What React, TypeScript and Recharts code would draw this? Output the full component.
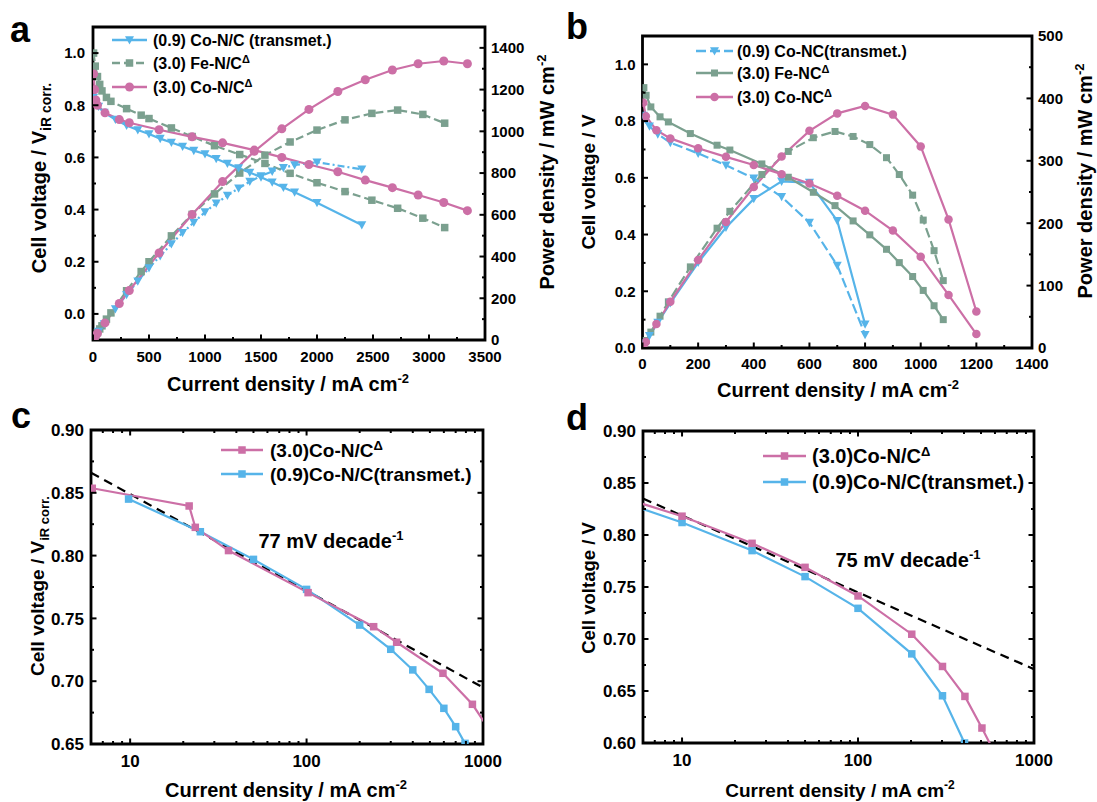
import React from "react";
import { ComposedChart, Line, XAxis, YAxis, ReferenceArea } from "recharts";

const FONT = '"Liberation Sans", Arial, Helvetica, sans-serif';
const PINK = "#CC6FA6";
const BLUE = "#56B4E9";
const GREEN = "#7BA08F";

// ---------- panel a : polarisation + power, V iR corr. ----------
const aBlueI = [5, 20, 50, 100, 200, 300, 400, 500, 600, 700, 800, 900, 1000, 1100, 1200, 1300, 1400, 1500, 1600, 1700, 1800, 2000, 2400];
const aBlueV = [0.83, 0.81, 0.795, 0.772, 0.745, 0.722, 0.705, 0.69, 0.672, 0.657, 0.642, 0.626, 0.613, 0.595, 0.577, 0.559, 0.542, 0.524, 0.505, 0.485, 0.466, 0.426, 0.341];
const aBlueP = [4, 16, 40, 77, 149, 217, 282, 345, 403, 460, 514, 563, 613, 655, 692, 727, 759, 786, 808, 825, 839, 852, 818];

const aGreenI = [5, 20, 40, 60, 80, 120, 160, 300, 430, 500, 700, 885, 1085, 1310, 1535, 1760, 2000, 2250, 2490, 2720, 2945, 3140];
const aGreenV = [1.0, 0.95, 0.91, 0.88, 0.855, 0.83, 0.815, 0.787, 0.762, 0.749, 0.713, 0.68, 0.645, 0.611, 0.577, 0.539, 0.503, 0.469, 0.436, 0.405, 0.367, 0.331];
const aGreenP = [5, 19, 36, 53, 68, 100, 130, 236, 328, 375, 499, 602, 700, 800, 886, 949, 1006, 1055, 1086, 1102, 1081, 1039];

const aPinkI = [5, 15, 25, 40, 107, 235, 324, 590, 885, 1157, 1440, 1686, 1928, 2186, 2431, 2673, 2903, 3132, 3343];
const aPinkV = [0.92, 0.86, 0.82, 0.8, 0.771, 0.745, 0.733, 0.706, 0.679, 0.656, 0.628, 0.6, 0.573, 0.545, 0.513, 0.484, 0.456, 0.427, 0.396];
const aPinkP = [5, 13, 21, 32, 82, 175, 237, 417, 601, 759, 904, 1012, 1105, 1191, 1247, 1294, 1324, 1337, 1324];

const aXTicks = [0, 250, 500, 750, 1000, 1250, 1500, 1750, 2000, 2250, 2500, 2750, 3000, 3250, 3500];
const aXMajor = [0, 500, 1000, 1500, 2000, 2500, 3000, 3500];
const aLTicks = [0, 0.1, 0.2, 0.3, 0.4, 0.5, 0.6, 0.7, 0.8, 0.9, 1.0];
const aLMajor = [0, 0.2, 0.4, 0.6, 0.8, 1.0];
const aRTicks = [0, 100, 200, 300, 400, 500, 600, 700, 800, 900, 1000, 1100, 1200, 1300, 1400];
const aRMajor = [0, 200, 400, 600, 800, 1000, 1200, 1400];

// ---------- panel b : polarisation + power, V ----------
const bBlueI = [3, 10, 25, 55, 100, 200, 300, 400, 500, 600, 700, 800];
const bBlueV = [0.82, 0.806, 0.782, 0.754, 0.724, 0.686, 0.644, 0.598, 0.533, 0.442, 0.291, 0.047];
const bBlueP = [2.5, 8, 19.5, 41, 72, 137, 193, 239, 267, 265, 204, 38];

const bGreenI = [5, 13, 30, 63, 93, 172, 268, 314, 429, 524, 614, 692, 757, 817, 877, 923, 971, 1009, 1048, 1081];
const bGreenV = [0.918, 0.891, 0.85, 0.815, 0.797, 0.756, 0.715, 0.698, 0.649, 0.602, 0.549, 0.502, 0.448, 0.399, 0.348, 0.301, 0.252, 0.203, 0.149, 0.1];
const bGreenP = [4.6, 12, 25.5, 51, 74, 130, 192, 219, 278, 315, 337, 347, 339, 326, 305, 278, 245, 205, 156, 108];

const bPinkI = [3, 12, 50, 100, 200, 300, 400, 500, 600, 700, 800, 900, 1000, 1100, 1200];
const bPinkV = [0.865, 0.817, 0.768, 0.739, 0.704, 0.674, 0.645, 0.613, 0.58, 0.537, 0.484, 0.414, 0.322, 0.187, 0.049];
const bPinkP = [2.6, 9.8, 38.4, 74, 141, 202, 258, 307, 348, 376, 388, 374, 323, 206, 58.5];

const bXTicks = [0, 100, 200, 300, 400, 500, 600, 700, 800, 900, 1000, 1100, 1200, 1300, 1400];
const bXMajor = [0, 200, 400, 600, 800, 1000, 1200, 1400];
const bLTicks = [0, 0.1, 0.2, 0.3, 0.4, 0.5, 0.6, 0.7, 0.8, 0.9, 1.0];
const bLMajor = [0, 0.2, 0.4, 0.6, 0.8, 1.0];
const bRTicks = [0, 50, 100, 150, 200, 250, 300, 350, 400, 450, 500];
const bRMajor = [0, 100, 200, 300, 400, 500];

// ---------- panel c : Tafel, V iR corr. ----------
const cPinkI = [6.1, 21.6, 23.4, 36.1, 102, 240, 324, 593, 871, 1200];
const cPinkV = [0.8536, 0.8395, 0.8225, 0.804, 0.7705, 0.7434, 0.731, 0.7063, 0.6816, 0.652];
const cBlueI = [9.8, 25, 50, 100, 200, 300, 400, 495, 600, 700, 791, 830];
const cBlueV = [0.845, 0.819, 0.797, 0.7731, 0.7447, 0.7254, 0.709, 0.6935, 0.6784, 0.6638, 0.6505, 0.64];
const cFitI = [6, 1000];
const cFitV = [0.866, 0.695];

// ---------- panel d : Tafel, V ----------
const dPinkI = [5, 10, 25, 50, 100, 202, 302, 405, 506, 600];
const dPinkV = [0.834, 0.8181, 0.792, 0.7689, 0.7414, 0.7046, 0.6736, 0.6448, 0.6144, 0.59];
const dBlueI = [5, 10, 25, 50, 100, 202, 302, 403];
const dBlueV = [0.8295, 0.812, 0.785, 0.76, 0.7295, 0.6857, 0.6454, 0.6];
const dFitI = [6, 1000];
const dFitV = [0.835, 0.671];

const logTicks = [7, 8, 9, 10, 20, 30, 40, 50, 60, 70, 80, 90, 100, 200, 300, 400, 500, 600, 700, 800, 900, 1000];
const logMajor = [10, 100, 1000];
const cYTicks = [0.65, 0.675, 0.7, 0.725, 0.75, 0.775, 0.8, 0.825, 0.85, 0.875, 0.9];
const cYMajor = [0.65, 0.7, 0.75, 0.8, 0.85, 0.9];
const dYTicks = [0.6, 0.625, 0.65, 0.675, 0.7, 0.725, 0.75, 0.775, 0.8, 0.825, 0.85, 0.875, 0.9];
const dYMajor = [0.6, 0.65, 0.7, 0.75, 0.8, 0.85, 0.9];

function pts(xs: number[], ys: number[]) {
  return xs.map((x, i) => ({ x, y: ys[i] }));
}

type Kind = "tri" | "sq" | "circ";

function markerEl(kind: Kind, cx: number, cy: number, color: string, s: number, key?: string) {
  if (kind === "sq") return <rect key={key} x={cx - s / 2} y={cy - s / 2} width={s} height={s} fill={color} />;
  if (kind === "circ") return <circle key={key} cx={cx} cy={cy} r={s / 2} fill={color} />;
  return (
    <polygon
      key={key}
      points={`${cx - s / 2},${cy - s * 0.42} ${cx + s / 2},${cy - s * 0.42} ${cx},${cy + s * 0.5}`}
      fill={color}
    />
  );
}

function dot(kind: Kind, color: string, s: number) {
  return (p: any) => {
    if (p.cx == null || p.cy == null) return <g key={`e${p.index}`} />;
    return markerEl(kind, p.cx, p.cy, color, s, `d${p.index}`);
  };
}

function bottomTick(majors: number[], B: number, T: number | null, fs: number, off: number, fmt: (v: number) => string) {
  return (p: any) => {
    const v = p.payload.value as number;
    const major = majors.includes(v);
    const len = major ? 5.5 : 3;
    return (
      <g>
        <line x1={p.x} x2={p.x} y1={B} y2={B - len} stroke="#000" strokeWidth={2} />
        {T !== null && <line x1={p.x} x2={p.x} y1={T} y2={T + len} stroke="#000" strokeWidth={2} />}
        {major && (
          <text x={p.x} y={B + off} textAnchor="middle" fontSize={fs} fontWeight={700} fontFamily={FONT} fill="#000">
            {fmt(v)}
          </text>
        )}
      </g>
    );
  };
}

function sideTick(majors: number[], edge: number, mirror: number | null, side: "left" | "right", fs: number, gap: number, fmt: (v: number) => string) {
  return (p: any) => {
    const v = p.payload.value as number;
    const major = majors.includes(v);
    const len = major ? 5.5 : 3;
    const dir = side === "left" ? 1 : -1;
    return (
      <g>
        <line x1={edge} x2={edge + dir * len} y1={p.y} y2={p.y} stroke="#000" strokeWidth={2} />
        {mirror !== null && <line x1={mirror} x2={mirror - dir * len} y1={p.y} y2={p.y} stroke="#000" strokeWidth={2} />}
        {major && (
          <text
            x={side === "left" ? edge - gap : edge + gap}
            y={p.y + fs * 0.36}
            textAnchor={side === "left" ? "end" : "start"}
            fontSize={fs}
            fontWeight={700}
            fontFamily={FONT}
            fill="#000"
          >
            {fmt(v)}
          </text>
        )}
      </g>
    );
  };
}

const f1 = (v: number) => v.toFixed(1);
const f2 = (v: number) => v.toFixed(2);
const f0 = (v: number) => String(v);

function PanelA() {
  const L = 93, R = 485, T = 27, B = 340;
  return (
    <ComposedChart width={548} height={400} margin={{ top: T, right: 548 - R - 50, bottom: 400 - B - 30, left: L - 50 }}>
      <XAxis dataKey="x" type="number" domain={[0, 3500]} ticks={aXTicks} interval={0} allowDataOverflow height={30}
        tickLine={false} axisLine={false} tick={bottomTick(aXMajor, B, null, 15, 21.5, f0)} />
      <YAxis yAxisId="l" type="number" domain={[-0.1, 1.1]} ticks={aLTicks} interval={0} allowDataOverflow width={50}
        tickLine={false} axisLine={false} tick={sideTick(aLMajor, L, null, "left", 15, 8, f1)} />
      <YAxis yAxisId="r" orientation="right" type="number" domain={[0, 1500]} ticks={aRTicks} interval={0} allowDataOverflow width={50}
        tickLine={false} axisLine={false} tick={sideTick(aRMajor, R, null, "right", 15, 6, f0)} />
      <Line yAxisId="r" data={pts(aGreenI, aGreenP)} dataKey="y" stroke={GREEN} strokeWidth={2.2} strokeDasharray="8 4" dot={dot("sq", GREEN, 7.5)} activeDot={false} isAnimationActive={false} />
      <Line yAxisId="r" data={pts(aBlueI, aBlueP)} dataKey="y" stroke={BLUE} strokeWidth={2.2} strokeDasharray="7 3 2 3" dot={dot("tri", BLUE, 9)} activeDot={false} isAnimationActive={false} />
      <Line yAxisId="r" data={pts(aPinkI, aPinkP)} dataKey="y" stroke={PINK} strokeWidth={2.2} dot={dot("circ", PINK, 9)} activeDot={false} isAnimationActive={false} />
      <Line yAxisId="l" data={pts(aGreenI, aGreenV)} dataKey="y" stroke={GREEN} strokeWidth={2.2} strokeDasharray="8 4" dot={dot("sq", GREEN, 7.5)} activeDot={false} isAnimationActive={false} />
      <Line yAxisId="l" data={pts(aBlueI, aBlueV)} dataKey="y" stroke={BLUE} strokeWidth={2.2} dot={dot("tri", BLUE, 9)} activeDot={false} isAnimationActive={false} />
      <Line yAxisId="l" data={pts(aPinkI, aPinkV)} dataKey="y" stroke={PINK} strokeWidth={2.2} dot={dot("circ", PINK, 9)} activeDot={false} isAnimationActive={false} />
      <ReferenceArea yAxisId="l" x1={0} x2={3500} y1={-0.1} y2={1.1} ifOverflow="visible" fill="none" fillOpacity={0} stroke="#000" strokeWidth={2.8} />
    </ComposedChart>
  );
}

function PanelB() {
  const L = 94.5, R = 484, T = 36, B = 348;
  return (
    <ComposedChart width={549} height={400} margin={{ top: T, right: 549 - R - 50, bottom: 400 - B - 30, left: L - 50 }}>
      <XAxis dataKey="x" type="number" domain={[0, 1400]} ticks={bXTicks} interval={0} allowDataOverflow height={30}
        tickLine={false} axisLine={false} tick={bottomTick(bXMajor, B, null, 15, 20.5, f0)} />
      <YAxis yAxisId="l" type="number" domain={[0, 1.1]} ticks={bLTicks} interval={0} allowDataOverflow width={50}
        tickLine={false} axisLine={false} tick={sideTick(bLMajor, L, null, "left", 15, 7, f1)} />
      <YAxis yAxisId="r" orientation="right" type="number" domain={[0, 500]} ticks={bRTicks} interval={0} allowDataOverflow width={50}
        tickLine={false} axisLine={false} tick={sideTick(bRMajor, R, null, "right", 15, 6, f0)} />
      <Line yAxisId="r" data={pts(bGreenI, bGreenP)} dataKey="y" stroke={GREEN} strokeWidth={2.2} strokeDasharray="10 4" dot={dot("sq", GREEN, 7)} activeDot={false} isAnimationActive={false} />
      <Line yAxisId="r" data={pts(bBlueI, bBlueP)} dataKey="y" stroke={BLUE} strokeWidth={2.2} dot={dot("tri", BLUE, 9)} activeDot={false} isAnimationActive={false} />
      <Line yAxisId="r" data={pts(bPinkI, bPinkP)} dataKey="y" stroke={PINK} strokeWidth={2.2} dot={dot("circ", PINK, 8.5)} activeDot={false} isAnimationActive={false} />
      <Line yAxisId="l" data={pts(bGreenI, bGreenV)} dataKey="y" stroke={GREEN} strokeWidth={2.2} dot={dot("sq", GREEN, 7)} activeDot={false} isAnimationActive={false} />
      <Line yAxisId="l" data={pts(bBlueI, bBlueV)} dataKey="y" stroke={BLUE} strokeWidth={2.2} strokeDasharray="10 4" dot={dot("tri", BLUE, 9)} activeDot={false} isAnimationActive={false} />
      <Line yAxisId="l" data={pts(bPinkI, bPinkV)} dataKey="y" stroke={PINK} strokeWidth={2.2} dot={dot("circ", PINK, 8.5)} activeDot={false} isAnimationActive={false} />
      <ReferenceArea yAxisId="l" x1={0} x2={1400} y1={0} y2={1.1} ifOverflow="visible" fill="none" fillOpacity={0} stroke="#000" strokeWidth={2.8} />
    </ComposedChart>
  );
}

function TafelPanel(props: {
  w: number; h: number; L: number; R: number; T: number; B: number;
  yDomain: [number, number]; yTicks: number[]; yMajor: number[];
  pink: { x: number; y: number }[]; blue: { x: number; y: number }[]; fit: { x: number; y: number }[];
}) {
  const { w, h, L, R, T, B } = props;
  return (
    <ComposedChart width={w} height={h} margin={{ top: T, right: w - R, bottom: h - B - 30, left: L - 50 }}>
      <XAxis dataKey="x" type="number" scale="log" domain={[6, 1000]} ticks={logTicks} interval={0} allowDataOverflow height={30}
        tickLine={false} axisLine={false} tick={bottomTick(logMajor, B, T, 17, 22.5, f0)} />
      <YAxis yAxisId="l" type="number" domain={props.yDomain} ticks={props.yTicks} interval={0} allowDataOverflow width={50}
        tickLine={false} axisLine={false} tick={sideTick(props.yMajor, L, R, "left", 17, 7, f2)} />
      <Line yAxisId="l" data={props.fit} dataKey="y" stroke="#000" strokeWidth={2.2} strokeDasharray="9 6" dot={false} activeDot={false} isAnimationActive={false} />
      <Line yAxisId="l" data={props.blue} dataKey="y" stroke={BLUE} strokeWidth={2.2} dot={dot("sq", BLUE, 7.5)} activeDot={false} isAnimationActive={false} />
      <Line yAxisId="l" data={props.pink} dataKey="y" stroke={PINK} strokeWidth={2.2} dot={dot("sq", PINK, 7.5)} activeDot={false} isAnimationActive={false} />
      <ReferenceArea yAxisId="l" x1={6} x2={1000} y1={props.yDomain[0]} y2={props.yDomain[1]} ifOverflow="visible" fill="none" fillOpacity={0} stroke="#000" strokeWidth={2.8} />
    </ComposedChart>
  );
}

function LegendRow(p: { x0: number; x1: number; y: number; tx: number; fs: number; color: string; dash?: string; kind: Kind; ms: number; children: React.ReactNode }) {
  return (
    <g>
      <line x1={p.x0} x2={p.x1} y1={p.y} y2={p.y} stroke={p.color} strokeWidth={2.4} strokeDasharray={p.dash} />
      {markerEl(p.kind, (p.x0 + p.x1) / 2, p.y, p.color, p.ms)}
      <text x={p.tx} y={p.y + p.fs * 0.36} fontSize={p.fs} fontWeight={700} fontFamily={FONT} fill="#000">
        {p.children}
      </text>
    </g>
  );
}

function Overlay() {
  const bold = { fontFamily: FONT, fontWeight: 700, fill: "#000" } as const;
  const sup = (t: string, fs: number, dy: number) => (
    <tspan dy={-dy} fontSize={fs}>{t}</tspan>
  );
  return (
    <svg width={1097} height={802} style={{ position: "absolute", left: 0, top: 0, pointerEvents: "none", overflow: "visible" }}>
      {/* panel letters */}
      <text x={10} y={42} fontSize={36} {...bold}>a</text>
      <text x={566} y={39} fontSize={36} {...bold}>b</text>
      <text x={11} y={428} fontSize={36} {...bold}>c</text>
      <text x={566} y={430} fontSize={36} {...bold}>d</text>

      {/* x titles */}
      <text x={288} y={391} textAnchor="middle" fontSize={20} {...bold}>Current density / mA cm{sup("-2", 13, 8)}</text>
      <text x={838} y={397} textAnchor="middle" fontSize={20} {...bold}>Current density / mA cm{sup("-2", 13, 8)}</text>
      <text x={286} y={797} textAnchor="middle" fontSize={20} {...bold}>Current density / mA cm{sup("-2", 13, 8)}</text>
      <text x={840} y={797} textAnchor="middle" fontSize={19} {...bold}>Current density / mA cm{sup("-2", 12, 8)}</text>

      {/* y titles */}
      <text x={46} y={178} transform="rotate(-90 46 178)" textAnchor="middle" fontSize={20} {...bold}>
        Cell voltage / V<tspan dy={5} fontSize={14}>iR corr.</tspan>
      </text>
      <text x={554} y={172} transform="rotate(-90 554 172)" textAnchor="middle" fontSize={20} {...bold}>
        Power density / mW cm{sup("-2", 13, 8)}
      </text>
      <text x={595} y={182} transform="rotate(-90 595 182)" textAnchor="middle" fontSize={19} {...bold}>Cell voltage / V</text>
      <text x={1092} y={181} transform="rotate(-90 1092 181)" textAnchor="middle" fontSize={20} {...bold}>
        Power density / mW cm{sup("-2", 13, 8)}
      </text>
      <text x={44} y={586} transform="rotate(-90 44 586)" textAnchor="middle" fontSize={19} {...bold}>
        Cell voltage / V<tspan dy={5} fontSize={13}>iR corr.</tspan>
      </text>
      <text x={595} y={588} transform="rotate(-90 595 588)" textAnchor="middle" fontSize={18.5} {...bold}>Cell voltage / V</text>

      {/* Tafel slope labels */}
      <text x={331} y={548} textAnchor="middle" fontSize={20} {...bold}>77 mV decade{sup("-1", 13, 8)}</text>
      <text x={908} y={567} textAnchor="middle" fontSize={20} {...bold}>75 mV decade{sup("-1", 13, 8)}</text>

      {/* legend a */}
      <LegendRow x0={112} x1={147} y={40} tx={153} fs={16} color={BLUE} kind="tri" ms={9}>(0.9) Co-N/C (transmet.)</LegendRow>
      <LegendRow x0={112} x1={147} y={63} tx={153} fs={16} color={GREEN} dash="8 4" kind="sq" ms={7.5}>(3.0) Fe-N/C{sup("Δ", 11, 6)}</LegendRow>
      <LegendRow x0={112} x1={147} y={87} tx={153} fs={16} color={PINK} kind="circ" ms={9}>(3.0) Co-N/C{sup("Δ", 11, 6)}</LegendRow>

      {/* legend b */}
      <LegendRow x0={696} x1={733} y={51} tx={737} fs={16} color={BLUE} dash="10 4" kind="tri" ms={9}>(0.9) Co-NC(transmet.)</LegendRow>
      <LegendRow x0={696} x1={733} y={73} tx={737} fs={16} color={GREEN} kind="sq" ms={7}>(3.0) Fe-NC{sup("Δ", 11, 6)}</LegendRow>
      <LegendRow x0={696} x1={733} y={97} tx={737} fs={16} color={PINK} kind="circ" ms={8.5}>(3.0) Co-NC{sup("Δ", 11, 6)}</LegendRow>

      {/* legend c */}
      <LegendRow x0={221} x1={263} y={450} tx={270} fs={19} color={PINK} kind="sq" ms={7.5}>(3.0)Co-N/C{sup("Δ", 13, 7)}</LegendRow>
      <LegendRow x0={221} x1={263} y={474} tx={270} fs={19} color={BLUE} kind="sq" ms={7.5}>(0.9)Co-N/C(transmet.)</LegendRow>

      {/* legend d */}
      <LegendRow x0={763} x1={806} y={456} tx={812} fs={20} color={PINK} kind="sq" ms={7.5}>(3.0)Co-N/C{sup("Δ", 13, 7)}</LegendRow>
      <LegendRow x0={763} x1={806} y={482} tx={812} fs={20} color={BLUE} kind="sq" ms={7.5}>(0.9)Co-N/C(transmet.)</LegendRow>
    </svg>
  );
}

export default function App() {
  return (
    <div style={{ position: "absolute", left: 0, top: 0, width: 1097, height: 802, background: "#fff", fontFamily: FONT }}>
      <div style={{ position: "absolute", left: 0, top: 0 }}>
        <PanelA />
      </div>
      <div style={{ position: "absolute", left: 548, top: 0 }}>
        <PanelB />
      </div>
      <div style={{ position: "absolute", left: 0, top: 400 }}>
        <TafelPanel w={548} h={402} L={91} R={483} T={30} B={344} yDomain={[0.65, 0.9]} yTicks={cYTicks} yMajor={cYMajor}
          pink={pts(cPinkI, cPinkV)} blue={pts(cBlueI, cBlueV)} fit={pts(cFitI, cFitV)} />
      </div>
      <div style={{ position: "absolute", left: 548, top: 400 }}>
        <TafelPanel w={549} h={402} L={95} R={486} T={31} B={343} yDomain={[0.6, 0.9]} yTicks={dYTicks} yMajor={dYMajor}
          pink={pts(dPinkI, dPinkV)} blue={pts(dBlueI, dBlueV)} fit={pts(dFitI, dFitV)} />
      </div>
      <Overlay />
    </div>
  );
}
